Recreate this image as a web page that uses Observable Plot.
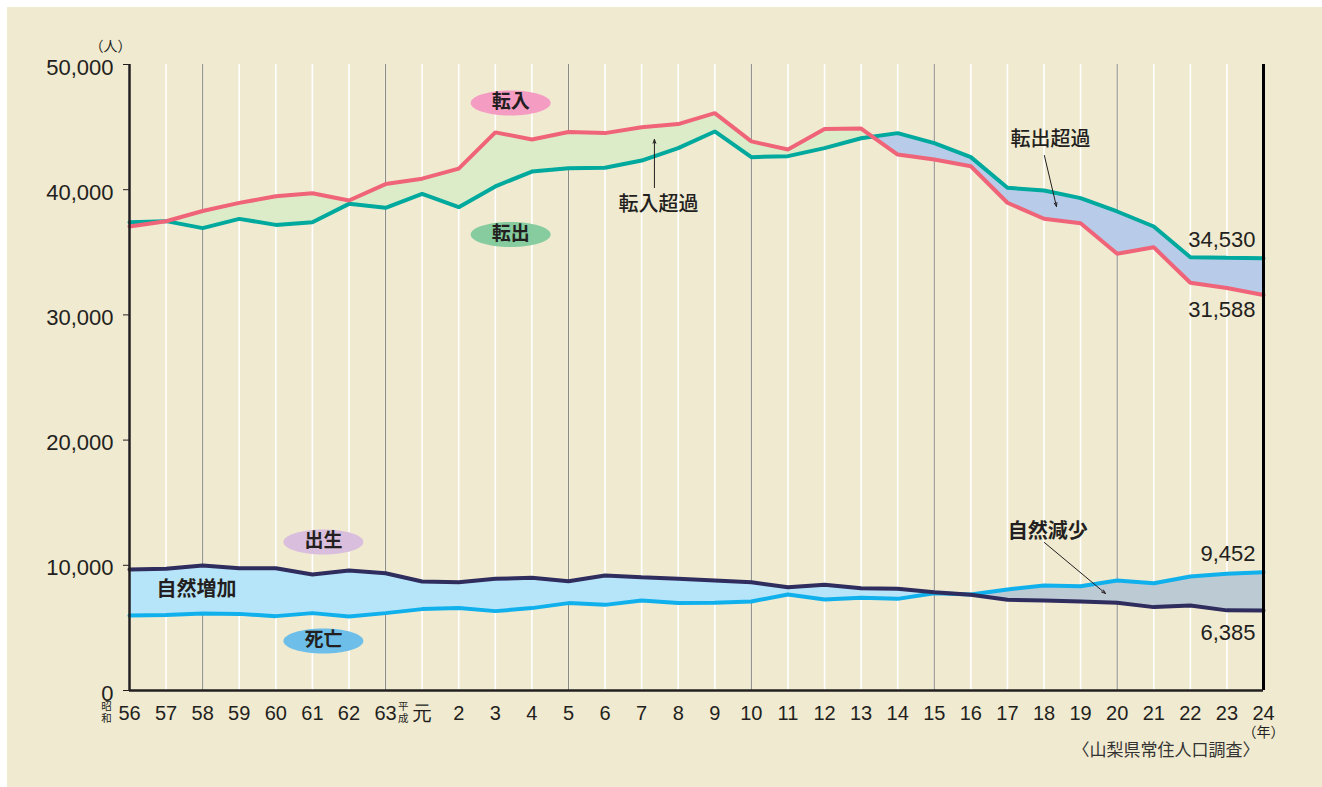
<!DOCTYPE html>
<html>
<head>
<meta charset="utf-8">
<script src="https://cdn.jsdelivr.net/npm/d3@7"></script>
<script src="https://cdn.jsdelivr.net/npm/@observablehq/plot@0.6"></script>
<style>
  html, body { margin: 0; padding: 0; background: #ffffff; overflow: hidden; }
  #chart { position: absolute; left: 7px; top: 7px; width: 1315px; height: 780px; background: #f0ead0; }
</style>
</head>
<body>
<div id="chart"></div>
<script>
// ---- data ----
const years = [1981,1982,1983,1984,1985,1986,1987,1988,1989,1990,1991,1992,1993,1994,1995,1996,
               1997,1998,1999,2000,2001,2002,2003,2004,2005,2006,2007,2008,2009,2010,2011,2012];
const yearLabels = ["56","57","58","59","60","61","62","63","元","2","3","4","5","6","7","8",
                    "9","10","11","12","13","14","15","16","17","18","19","20","21","22","23","24"];
const majorYears = [1983, 1988, 1993, 1998, 2003, 2008];
const yTicks = [0, 10000, 20000, 30000, 40000, 50000];

// 転入
const inMig = [37060,37480,38300,38950,39470,39710,39140,40450,40880,41680,44580,44010,44610,44520,44980,45240,
               46120,43860,43210,44840,44880,42810,42410,41870,38960,37680,37320,34890,35400,32570,32150,31588];
// 転出
const outMig = [37400,37490,36930,37670,37190,37400,38870,38550,39670,38600,40260,41450,41720,41750,42330,43320,
                44650,42600,42680,43320,44110,44520,43720,42600,40150,39940,39330,38260,37060,34610,34560,34530];
// 出生
const births = [9660,9720,9980,9770,9770,9270,9580,9370,8710,8650,8920,9000,8730,9190,9050,8920,
                8790,8650,8250,8440,8170,8120,7850,7640,7240,7190,7110,7000,6660,6790,6400,6385];
// 死亡
const deaths = [5990,6040,6150,6120,5940,6180,5910,6180,6500,6580,6340,6580,6980,6840,7190,6980,
                7000,7110,7670,7270,7400,7320,7770,7670,8070,8390,8330,8790,8570,9110,9320,9452];

// era prefixes for the x axis
const eraChars1 = ["昭", "和"];
const eraChars2 = ["平", "成"];

// annotations (data coordinates)
const noteTexts = ["転入超過", "転出超過", "自然減少", "自然増加"];
const noteX = [1995.46, 2006.18, 2006.10, 1982.83];
const noteY = [38820, 44010, 12700, 8070];
const noteWeight = ["500", "500", "bold", "bold"];

const arrowX1 = [1995.35, 2006.01, 2006.01];
const arrowY1 = [40170, 42730, 11820];
const arrowX2 = [1995.35, 2006.34, 2007.68];
const arrowY2 = [44010, 38660, 7750];

const pillTexts = ["転入", "転出", "出生", "死亡"];
const pillX = [1991.42, 1991.42, 1986.30, 1986.30];
const pillY = [46920, 36420, 11860, 3950];
const pillColors = ["#f59cc3", "#86cc9f", "#d9bedd", "#6dbfe9"];

const endTop = ["34,530", "9,452"];
const endTopY = [34530, 9452];
const endBottomMig = ["31,588"];
const endBottomMigY = [31588];
const endBottomNat = ["6,385"];
const endBottomNatY = [6385];

// ---- colours ----
const PINK = "#ef6478", TEAL = "#00a99d", NAVY = "#2f2c5e", SKY = "#10b0ec";
const GREEN = "#ddecc8", BLUE = "#b8cce9", CYAN = "#b6e4f9", GREY = "#bccad3";
const INK = "#231f20";

// ---- table built from arrays ----
const rows = years.map((y, i) => ({year: y, in: inMig[i], out: outMig[i], birth: births[i], death: deaths[i]}));
const notes = noteTexts.map((t, i) => ({t, x: noteX[i], y: noteY[i], w: noteWeight[i]}));
const arrows = arrowX1.map((_, i) => ({x1: arrowX1[i], y1: arrowY1[i], x2: arrowX2[i], y2: arrowY2[i]}));
const pills = pillTexts.map((t, i) => ({t, x: pillX[i], y: pillY[i], c: pillColors[i]}));

const ellipse = {
  draw(ctx) {
    const rx = 40, ry = 12.5, k = 0.5523;
    ctx.moveTo(rx, 0);
    ctx.bezierCurveTo(rx, k * ry, k * rx, ry, 0, ry);
    ctx.bezierCurveTo(-k * rx, ry, -rx, k * ry, -rx, 0);
    ctx.bezierCurveTo(-rx, -k * ry, -k * rx, -ry, 0, -ry);
    ctx.bezierCurveTo(k * rx, -ry, rx, -k * ry, rx, 0);
    ctx.closePath();
  }
};

const JP = "'Noto Sans CJK JP', sans-serif";
const LAT = "'Liberation Sans', Arial, Helvetica, sans-serif";

const eraMark = (chars, year, dx) => chars.map((c, i) =>
  Plot.text([c], {x: year, frameAnchor: "bottom", dx, dy: 19 + i * 12, text: d => d, fontSize: 10.5, fontFamily: JP, fill: INK}));

const chart = Plot.plot({
  width: 1315,
  height: 780,
  marginLeft: 122,
  marginRight: 59,
  marginTop: 57,
  marginBottom: 97,
  x: {domain: [1981, 2012]},
  y: {domain: [0, 50000]},
  color: {type: "identity"},
  style: {background: "#f0ead0", fontFamily: LAT, color: INK, overflow: "visible"},
  marks: [
    // grid
    Plot.ruleX(years, {stroke: "#ffffff", strokeWidth: 1.6}),
    Plot.ruleX(majorYears, {stroke: "#85857a", strokeWidth: 1}),
    // bands (clipped afterwards into positive / negative parts)
    Plot.areaY(rows, {x: "year", y1: "in", y2: "out", fill: GREEN}),
    Plot.areaY(rows, {x: "year", y1: "in", y2: "out", fill: BLUE}),
    Plot.areaY(rows, {x: "year", y1: "birth", y2: "death", fill: CYAN}),
    Plot.areaY(rows, {x: "year", y1: "birth", y2: "death", fill: GREY}),
    // lines
    Plot.lineY(rows, {x: "year", y: "out", stroke: TEAL, strokeWidth: 4, strokeLinejoin: "miter"}),
    Plot.lineY(rows, {x: "year", y: "in", stroke: PINK, strokeWidth: 4, strokeLinejoin: "miter"}),
    Plot.lineY(rows, {x: "year", y: "death", stroke: SKY, strokeWidth: 4, strokeLinejoin: "miter"}),
    Plot.lineY(rows, {x: "year", y: "birth", stroke: NAVY, strokeWidth: 4, strokeLinejoin: "miter"}),
    // frame lines
    Plot.ruleX([1981], {stroke: INK, strokeWidth: 2.5}),
    Plot.ruleX([2012], {stroke: "#000000", strokeWidth: 3}),
    Plot.ruleY([0], {stroke: INK, strokeWidth: 2.5}),
    // axes
    Plot.axisY({ticks: yTicks, tickSize: 6, tickFormat: () => "", label: null, stroke: INK}),
    Plot.axisY({ticks: yTicks, tickSize: 0, tickPadding: 16, tickFormat: d3.format(","), fontSize: 22, label: null, dy: 3, fill: INK}),
    Plot.axisX({ticks: years, tickSize: 0, tickPadding: 15, tickFormat: d => yearLabels[years.indexOf(d)], fontSize: 20, label: null, fill: INK}),
    // era marks & units
    ...eraMark(eraChars1, 1981, -23),
    ...eraMark(eraChars2, 1989, -19),
    Plot.text(["（人）"], {x: 1981, y: 50000, dx: -19, dy: -18, text: d => d, fontSize: 14, fontFamily: JP, fill: INK}),
    Plot.text(["（年）"], {x: 2012, frameAnchor: "bottom", dy: 46, text: d => d, fontSize: 14, fontFamily: JP, fill: INK}),
    Plot.text(["〈山梨県常住人口調査〉"], {x: 2012, frameAnchor: "bottom", dx: -4, dy: 65, textAnchor: "end", text: d => d, fontSize: 17, fontFamily: JP, fill: "#333333"}),
    // pills
    Plot.dot(pills, {x: "x", y: "y", symbol: ellipse, fill: "c", stroke: "none"}),
    Plot.text(pills, {x: "x", y: "y", text: "t", fontSize: 19, fontWeight: "bold", fontFamily: JP, fill: INK, dy: -1}),
    // annotations
    Plot.arrow(arrows, {x1: "x1", y1: "y1", x2: "x2", y2: "y2", stroke: INK, strokeWidth: 1, headLength: 6, headAngle: 40}),
    Plot.text(notes.filter(d => d.w !== "bold"), {x: "x", y: "y", text: "t", fontSize: 20, fontWeight: 500, fontFamily: JP, fill: INK}),
    Plot.text(notes.filter(d => d.w === "bold"), {x: "x", y: "y", text: "t", fontSize: 20, fontWeight: "bold", fontFamily: JP, fill: INK}),
    // end values
    Plot.text(endTop, {x: 2012, y: (d, i) => endTopY[i], text: d => d, dx: -8, dy: -11, textAnchor: "end", lineAnchor: "bottom", fontSize: 22, fill: INK}),
    Plot.text(endBottomMig, {x: 2012, y: (d, i) => endBottomMigY[i], text: d => d, dx: -8, dy: 22, textAnchor: "end", lineAnchor: "bottom", fontSize: 22, fill: INK}),
    Plot.text(endBottomNat, {x: 2012, y: (d, i) => endBottomNatY[i], text: d => d, dx: -8, dy: 29, textAnchor: "end", lineAnchor: "bottom", fontSize: 22, fill: INK})
  ]
});

// ---- split each band into its positive / negative part with clip paths built from the plot's scales ----
const xs = chart.scale("x"), ys = chart.scale("y");
const svg = d3.select(chart);
const defs = svg.insert("defs", ":first-child");
function clip(id, key, edge) {
  const a = d3.area()
    .x(d => xs.apply(d.year))
    .y0(d => ys.apply(d[key]))
    .y1(() => ys.apply(edge));
  defs.append("clipPath").attr("id", id).append("path").attr("d", a(rows));
}
clip("clipAboveOut", "out", 50000);
clip("clipBelowOut", "out", 0);
clip("clipAboveDeath", "death", 50000);
clip("clipBelowDeath", "death", 0);
svg.selectAll(`g[fill="${GREEN}"]`).attr("clip-path", "url(#clipAboveOut)");
svg.selectAll(`g[fill="${BLUE}"]`).attr("clip-path", "url(#clipBelowOut)");
svg.selectAll(`g[fill="${CYAN}"]`).attr("clip-path", "url(#clipAboveDeath)");
svg.selectAll(`g[fill="${GREY}"]`).attr("clip-path", "url(#clipBelowDeath)");

document.getElementById("chart").appendChild(chart);
</script>
</body>
</html>
